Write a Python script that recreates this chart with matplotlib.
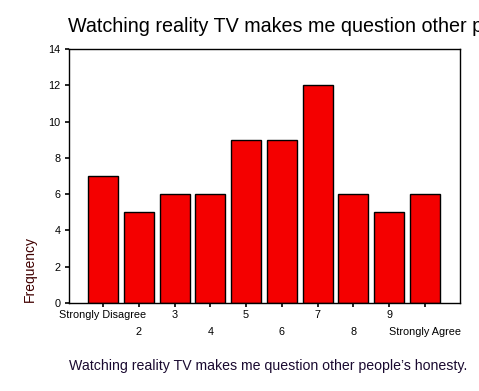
import numpy as np
import matplotlib.pyplot as plt

plt.rcParams['font.family'] = ['Liberation Sans', 'DejaVu Sans']

categories = ['Strongly Disagree', '2', '3', '4', '5', '6', '7', '8', '9', 'Strongly Agree']
counts = [7, 5, 6, 6, 9, 9, 12, 6, 5, 6]
yticks = [0, 2, 4, 6, 8, 10, 12, 14]

fig = plt.figure(figsize=(4.79, 3.91), dpi=100)
ax = fig.add_axes([69 / 479, 1 - 303 / 391, (460 - 69) / 479, (303 - 49) / 391])

x = np.arange(1, len(counts) + 1)
ax.bar(x, counts, width=0.84, color='#f40000', edgecolor='black', linewidth=1.0)

ax.set_xlim(0.05, 10.98)
ax.set_ylim(0, 14)
ax.set_yticks(yticks)
ax.set_yticklabels([str(v) for v in yticks], fontsize=7.8)

# staggered labels: odd positions on the first row, even ones a row lower
ax.set_xticks(x[::2])
ax.set_xticklabels(categories[::2], fontsize=7.8)
ax.set_xticks(x[1::2], minor=True)
ax.set_xticklabels(categories[1::2], minor=True, fontsize=7.8)
ax.tick_params(which='both', direction='out', length=3, width=1.2)
ax.tick_params(axis='x', which='major', pad=2)
ax.tick_params(axis='x', which='minor', pad=14)
ax.tick_params(axis='y', pad=3)

for s in ax.spines.values():
    s.set_linewidth(1.0)

fig.text(68 / 479, 1 - 26 / 391, 'Watching reality TV makes me question other people\u2019s honesty.',
         fontsize=14.2, va='center', ha='left')
fig.text(30 / 479, 1 - 302 / 391, 'Frequency', rotation=90, fontsize=10,
         color='#400000', ha='center', va='bottom')
fig.text(268 / 479, 1 - 366 / 391, 'Watching reality TV makes me question other people\u2019s honesty.',
         fontsize=10.2, va='center', ha='center', color='#1a0a30')

fig.savefig('out.png', dpi=100)
